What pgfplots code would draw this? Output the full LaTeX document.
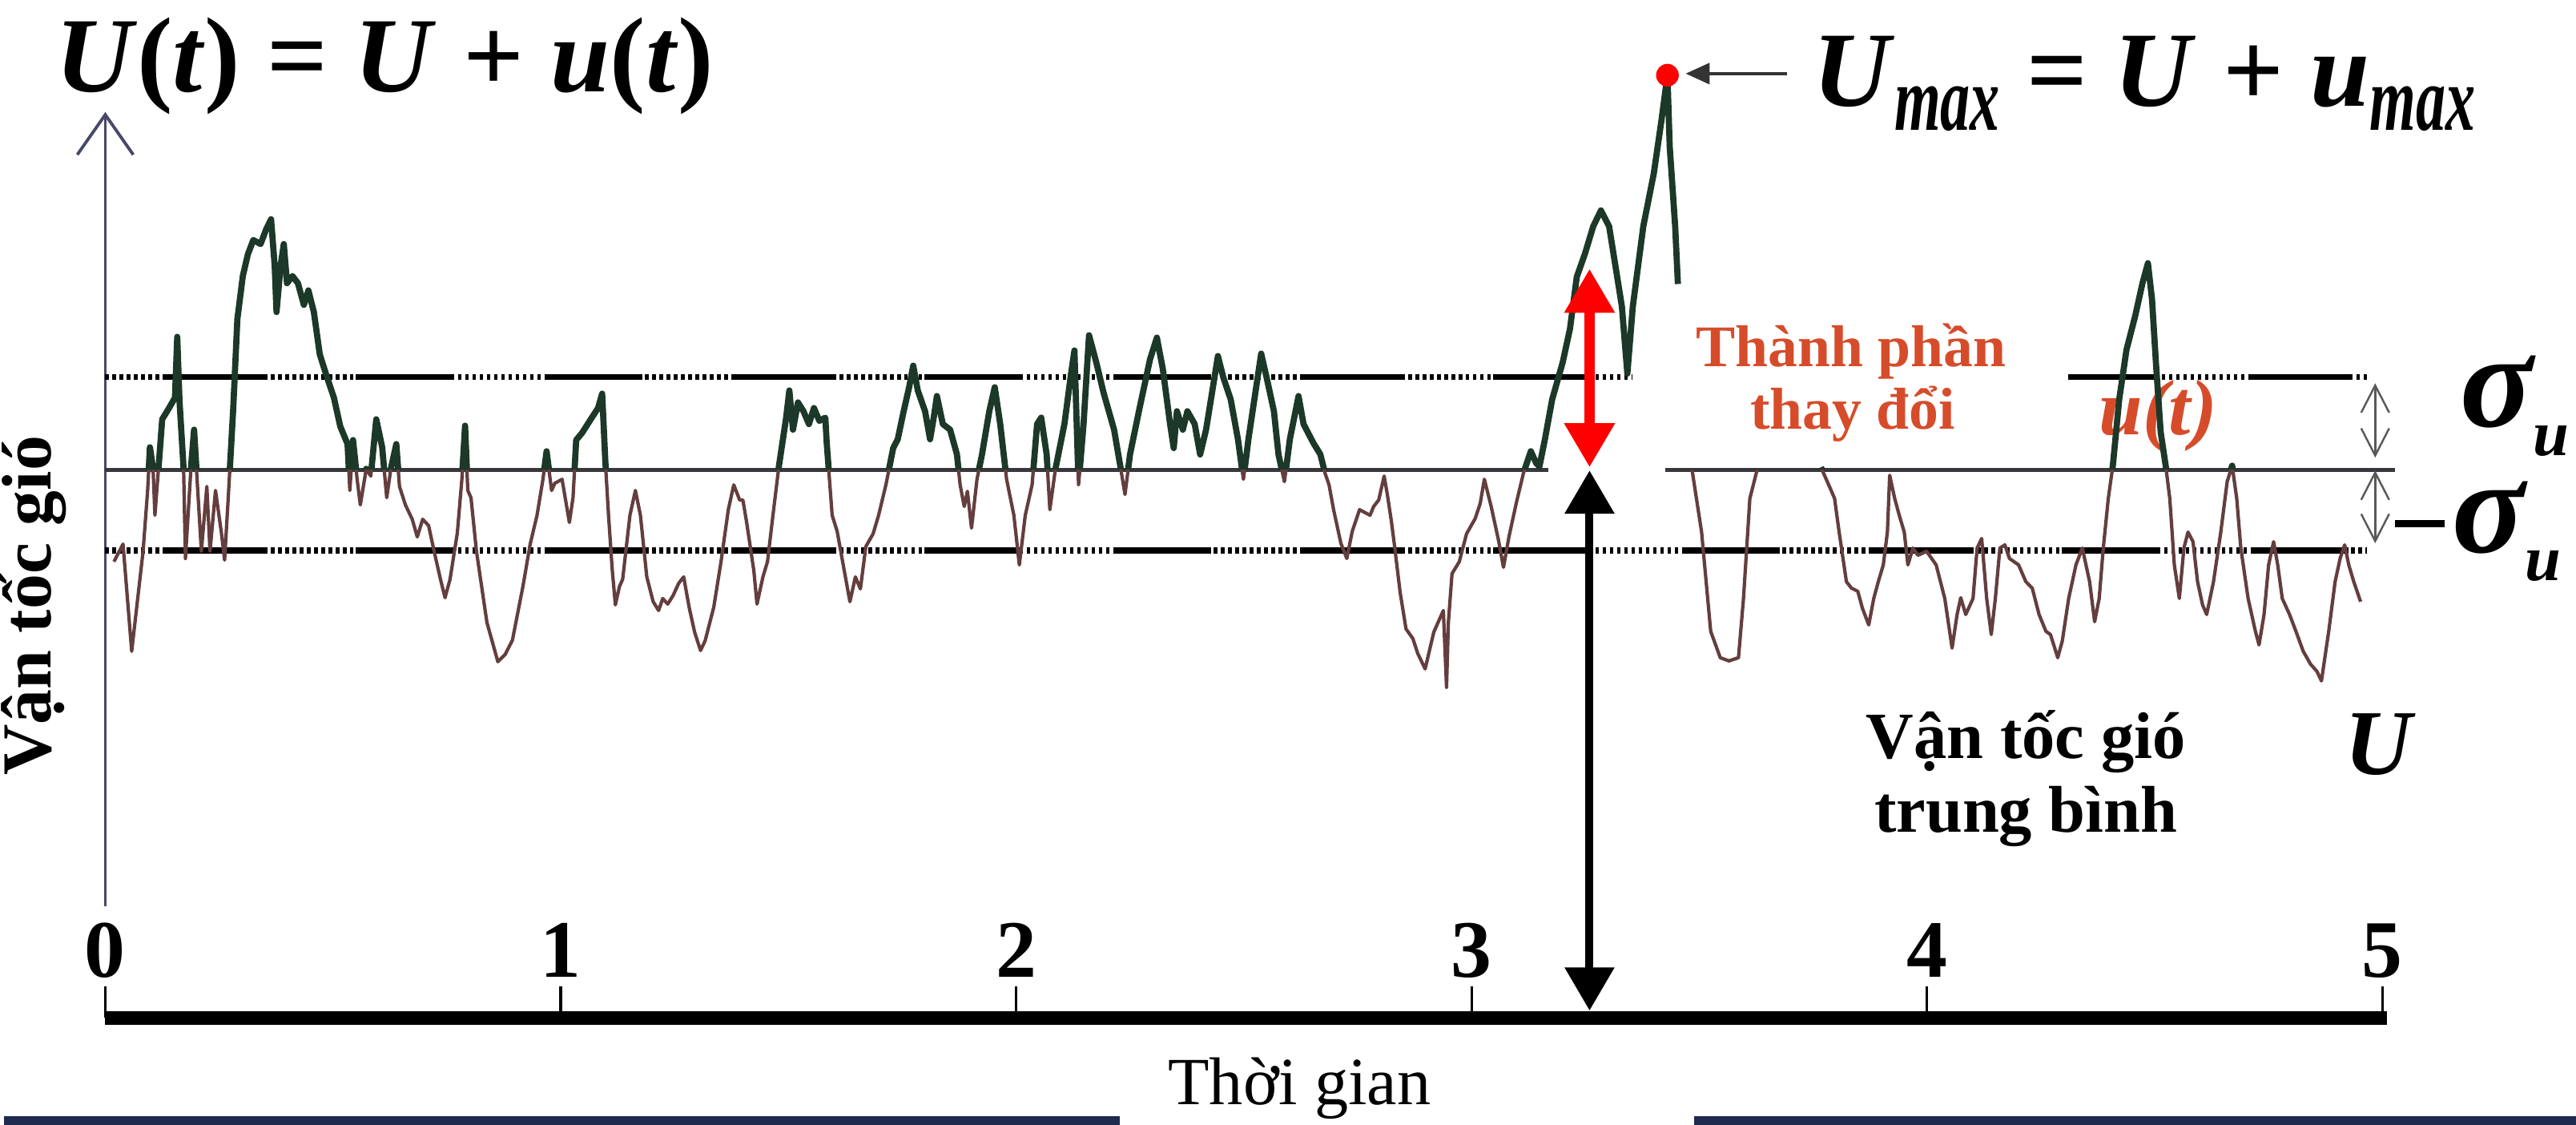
\documentclass[border=0pt]{standalone}
\usepackage{fontspec}
\setmainfont{Liberation Serif}
\usepackage{graphicx}
\usepackage{pgfplots}
\pgfplotsset{compat=1.18}
\usepackage{pgfplotstable}
\usetikzlibrary{arrows.meta}

\definecolor{sigup}{RGB}{28,56,40}
\definecolor{sigdn}{RGB}{100,62,62}
\definecolor{redlab}{RGB}{214,76,42}
\definecolor{axisblue}{RGB}{72,72,105}
\definecolor{meangray}{RGB}{55,55,60}
\definecolor{navy}{RGB}{30,42,78}
\newcommand{\fs}[1]{\fontsize{#1}{#1}\selectfont}
\newcommand{\sub}[1]{\raisebox{-3mm}{\scalebox{0.64}[1]{\fs{33}\bfseries\itshape #1}}}

\pgfplotstableread{
t u
0.019 5.70
0.039 5.92
0.058 4.58
0.083 5.83
0.093 6.59
0.098 7.13
0.105 6.86
0.109 6.28
0.118 6.95
0.125 7.48
0.140 7.62
0.153 7.75
0.158 8.51
0.163 7.71
0.172 6.86
0.176 5.74
0.188 6.86
0.195 7.35
0.204 6.50
0.211 5.83
0.223 6.64
0.230 5.83
0.242 6.59
0.255 6.06
0.262 5.72
0.270 6.50
0.281 7.62
0.290 8.73
0.302 9.27
0.313 9.54
0.325 9.72
0.341 9.67
0.353 9.85
0.364 9.98
0.372 9.40
0.376 8.82
0.385 9.40
0.392 9.67
0.399 9.18
0.411 9.27
0.423 9.18
0.436 8.91
0.446 9.09
0.458 8.82
0.471 8.29
0.486 8.02
0.502 7.75
0.516 7.39
0.532 7.17
0.537 6.59
0.544 7.22
0.553 6.73
0.560 6.41
0.573 6.86
0.583 6.77
0.595 7.48
0.608 7.13
0.618 6.50
0.627 6.86
0.639 7.17
0.646 6.64
0.659 6.41
0.674 6.23
0.685 6.01
0.697 6.23
0.710 6.15
0.722 5.83
0.736 5.48
0.746 5.25
0.757 5.48
0.773 6.06
0.783 6.73
0.790 7.40
0.796 6.59
0.803 6.50
0.815 5.83
0.838 4.94
0.862 4.45
0.878 4.54
0.894 4.72
0.917 5.39
0.933 5.92
0.948 6.28
0.961 6.73
0.969 7.08
0.980 6.59
0.987 6.68
1.003 6.73
1.019 6.19
1.027 6.50
1.034 7.22
1.047 7.31
1.066 7.48
1.082 7.62
1.091 7.80
1.098 6.95
1.105 6.28
1.113 5.61
1.120 5.16
1.129 5.39
1.136 5.48
1.152 6.28
1.164 6.59
1.175 6.28
1.189 5.51
1.203 5.20
1.215 5.09
1.224 5.24
1.235 5.17
1.247 5.28
1.259 5.43
1.270 5.51
1.282 5.13
1.294 4.82
1.307 4.59
1.317 4.71
1.336 5.13
1.352 5.70
1.368 6.35
1.380 6.66
1.393 6.47
1.400 6.47
1.408 6.20
1.424 5.59
1.431 5.17
1.444 5.51
1.454 5.70
1.466 6.28
1.479 6.89
1.495 7.50
1.502 7.84
1.510 7.35
1.521 7.69
1.533 7.58
1.545 7.42
1.556 7.62
1.568 7.46
1.581 7.50
1.584 7.19
1.596 6.28
1.607 6.08
1.619 5.70
1.635 5.20
1.647 5.51
1.658 5.36
1.670 5.89
1.686 6.05
1.698 6.28
1.714 6.66
1.730 7.12
1.740 7.23
1.753 7.58
1.765 7.88
1.774 8.15
1.784 7.84
1.800 7.58
1.811 7.23
1.819 7.50
1.826 7.77
1.839 7.42
1.855 7.35
1.870 7.04
1.877 6.66
1.886 6.39
1.893 6.58
1.902 6.12
1.914 6.73
1.925 7.04
1.941 7.58
1.953 7.88
1.965 7.42
1.979 6.73
1.995 6.28
2.007 5.66
2.020 6.28
2.035 6.66
2.046 7.42
2.055 7.50
2.067 7.04
2.074 6.35
2.086 6.85
2.106 7.42
2.121 8.07
2.128 8.34
2.137 6.66
2.148 7.42
2.160 8.53
2.176 8.19
2.192 7.81
2.215 7.35
2.230 6.85
2.239 6.54
2.250 7.04
2.271 7.62
2.294 8.23
2.309 8.50
2.322 8.11
2.338 7.42
2.346 7.12
2.353 7.58
2.366 7.35
2.376 7.58
2.392 7.42
2.404 7.04
2.417 7.35
2.432 7.88
2.443 8.27
2.455 8.00
2.471 7.73
2.487 7.23
2.499 6.73
2.510 7.23
2.538 8.30
2.550 8.00
2.566 7.58
2.576 7.04
2.589 6.70
2.601 7.23
2.620 7.77
2.631 7.42
2.652 7.19
2.668 7.04
2.678 6.81
2.687 6.66
2.697 6.35
2.713 5.93
2.726 5.74
2.738 6.08
2.754 6.35
2.777 6.28
2.785 6.39
2.796 6.47
2.808 6.77
2.815 6.54
2.824 6.20
2.831 5.89
2.843 5.32
2.856 4.86
2.871 4.74
2.882 4.55
2.898 4.36
2.917 4.82
2.938 5.09
2.945 4.13
2.949 4.94
2.957 5.55
2.973 5.70
2.989 6.05
3.008 6.24
3.019 6.43
3.028 6.73
3.043 6.39
3.059 5.97
3.070 5.63
3.082 6.01
3.098 6.43
3.114 6.81
3.130 7.08
3.142 6.93
3.149 6.89
3.161 7.23
3.177 7.73
3.200 8.19
3.216 8.61
3.231 9.26
3.249 9.55
3.267 9.89
3.284 10.09
3.302 9.89
3.330 8.89
3.342 8.05
3.354 8.89
3.377 9.89
3.400 10.55
3.417 11.22
3.430 11.78
3.435 10.89
3.447 9.89
3.453 9.17
}\sigA

\pgfplotstableread{
t u
3.484 6.85
3.505 6.07
3.525 4.83
3.546 4.50
3.565 4.46
3.586 4.50
3.597 5.24
3.611 6.49
3.627 6.85
}\sigB

\pgfplotstableread{
t u
3.767 6.88
3.788 6.61
3.797 6.49
3.807 6.07
3.823 5.45
3.834 5.37
3.848 5.33
3.858 5.12
3.872 4.91
3.883 5.24
3.893 5.45
3.904 5.66
3.913 6.07
3.918 6.78
3.929 6.49
3.939 6.28
3.950 6.07
3.958 5.66
3.969 5.87
3.980 5.78
3.999 5.83
4.020 5.66
4.039 5.24
4.055 4.62
4.066 5.04
4.074 5.25
4.085 5.04
4.101 5.24
4.110 5.87
4.120 5.99
4.131 5.24
4.141 4.79
4.150 5.24
4.160 5.87
4.171 5.91
4.181 5.74
4.201 5.66
4.217 5.45
4.231 5.37
4.246 5.04
4.261 4.83
4.271 4.79
4.287 4.50
4.297 4.71
4.311 5.24
4.327 5.66
4.341 5.87
4.357 5.45
4.368 4.95
4.378 5.24
4.387 5.87
4.398 6.49
4.408 6.90
4.422 7.73
4.438 8.35
4.457 8.77
4.473 9.18
4.485 9.43
4.494 8.98
4.503 8.15
4.513 7.32
4.524 6.90
4.533 6.49
4.543 5.66
4.554 5.24
4.564 5.87
4.573 6.07
4.584 5.95
4.594 5.45
4.605 5.16
4.614 5.04
4.629 5.45
4.645 6.07
4.659 6.70
4.670 6.90
4.680 6.49
4.689 5.87
4.705 5.24
4.721 4.83
4.729 4.66
4.740 5.04
4.750 5.66
4.761 5.95
4.770 5.66
4.780 5.24
4.796 5.04
4.810 4.83
4.826 4.58
4.842 4.42
4.856 4.33
4.866 4.21
4.882 4.83
4.896 5.45
4.907 5.74
4.917 5.91
4.926 5.66
4.937 5.45
4.952 5.20
}\sigC

\begin{document}
\begin{tikzpicture}
\begin{axis}[
  x=56.94mm, y=10mm,
  xmin=0, xmax=5.01, ymin=0, ymax=11.32,
  axis x line=bottom, axis y line=none,
  x axis line style={-, line width=4.8pt},
  xtick={0,1,2,3,4,5}, ytick=\empty,
  tick align=inside, major tick length=3.9mm,
  xtick style={black, line width=0.9pt},
  xticklabel style={font=\fs{29}\bfseries, anchor=center, yshift=8.4mm, inner sep=0pt},
  /pgf/number format/assume math mode=true,
  clip=false,
]
% picture frame
\path (axis cs:-0.223,-1.34) rectangle (axis cs:5.425,12.72);
\fill[navy] (axis cs:-0.223,-1.34) rectangle (axis cs:2.227,-1.23);
\fill[navy] (axis cs:3.489,-1.34) rectangle (axis cs:5.425,-1.23);

% y axis
\draw[axisblue, line width=1.1pt, -{Straight Barb[length=5mm,width=7mm]}] (axis cs:0,1.39) -- (axis cs:0,11.32);

% text behind signal
\node[anchor=base, font=\fs{28}\bfseries\itshape, text=redlab, inner sep=0] at (axis cs:4.507,7.29) {u(t)};

% sigma lines (dotted + solid dashes) and mean line
\addplot[black, line width=2pt, dash pattern=on 0.45mm off 0.45mm] coordinates {(0,8.01) (3.351,8.01)};
\addplot[black, line width=2pt, dash pattern=on 12.2mm off 11.5mm, dash phase=16.1mm] coordinates {(0,8.01) (3.351,8.01)};
\addplot[black, line width=2pt, dash pattern=on 0.45mm off 0.45mm] coordinates {(4.310,8.01) (4.966,8.01)};
\addplot[black, line width=2pt, dash pattern=on 12.2mm off 11.5mm, dash phase=0.8mm] coordinates {(4.310,8.01) (4.966,8.01)};
\addplot[black, line width=2pt, dash pattern=on 0.45mm off 0.45mm] coordinates {(0,5.84) (4.966,5.84)};
\addplot[black, line width=2pt, dash pattern=on 12.2mm off 11.5mm, dash phase=16.1mm] coordinates {(0,5.84) (4.966,5.84)};
\addplot[meangray, line width=1.4pt] coordinates {(0,6.85) (3.168,6.85)};
\addplot[meangray, line width=1.4pt] coordinates {(3.426,6.85) (5.028,6.85)};

% signal: above mean (green) and below mean (brown)
\begin{scope}
\clip (axis cs:-0.2,6.85) rectangle (axis cs:5.4,12.7);
\addplot[sigup, line width=2.2pt, line join=round] table {\sigA};
\addplot[sigup, line width=2.2pt, line join=round] table {\sigB};
\addplot[sigup, line width=2.2pt, line join=round] table {\sigC};
\end{scope}
\begin{scope}
\clip (axis cs:-0.2,-1.3) rectangle (axis cs:5.4,6.85);
\addplot[sigdn, line width=1.2pt, line join=round] table {\sigA};
\addplot[sigdn, line width=1.2pt, line join=round] table {\sigB};
\addplot[sigdn, line width=1.2pt, line join=round] table {\sigC};
\end{scope}

% maximum point
\addplot[only marks, mark=*, mark size=1.35mm, mark options={fill=red, draw=red}] coordinates {(3.430,11.78)};
\draw[black!80, line width=1.2pt, -{Triangle[length=3mm,width=2.6mm]}] (axis cs:3.692,11.80) -- (axis cs:3.470,11.80);

% arrows
\draw[red, line width=1.3mm, {Triangle[length=5.5mm,width=6mm]}-{Triangle[length=5.5mm,width=6mm]}] (axis cs:3.259,6.88) -- (axis cs:3.259,9.36);
\draw[black, line width=1mm, {Triangle[length=5.4mm,width=6mm]}-{Triangle[length=5.4mm,width=6mm]}] (axis cs:3.259,6.84) -- (axis cs:3.259,0.09);
\draw[black!65, line width=0.7pt, {Straight Barb[length=3.4mm,width=3.5mm]}-{Straight Barb[length=3.4mm,width=3.5mm]}] (axis cs:4.984,7.93) -- (axis cs:4.984,7.00);
\draw[black!65, line width=0.7pt, {Straight Barb[length=3.4mm,width=3.5mm]}-{Straight Barb[length=3.4mm,width=3.5mm]}] (axis cs:4.984,6.84) -- (axis cs:4.984,5.93);

% labels
\node[anchor=base west, font=\fs{38}\bfseries, inner sep=0] at (axis cs:-0.111,11.57) {\textit{U}(\textit{t}) = \textit{U} + \textit{u}(\textit{t})};
\node[anchor=base west, font=\fs{38}\bfseries, inner sep=0] at (axis cs:3.748,11.39) {\textit{U}\sub{max} = \textit{U} + \textit{u}\sub{max}};
\node[rotate=90, font=\fs{25}\bfseries, inner sep=0] at (axis cs:-0.158,5.15) {Vận tốc gió};
\node[anchor=base, font=\fs{24}, inner sep=0] at (axis cs:2.622,-1.08) {Thời gian};
\node[anchor=base, font=\fs{21}\bfseries, text=redlab, inner sep=0] at (axis cs:3.833,8.14) {Thành phần};
\node[anchor=base, font=\fs{21}\bfseries, text=redlab, inner sep=0] at (axis cs:3.837,7.36) {thay đổi};
\node[anchor=base, font=\fs{23.5}\bfseries, inner sep=0] at (axis cs:4.217,3.24) {Vận tốc gió};
\node[anchor=base, font=\fs{23.5}\bfseries, inner sep=0] at (axis cs:4.217,2.32) {trung bình};
\node[anchor=base, font=\fs{33}\bfseries\itshape, inner sep=0] at (axis cs:4.991,3.04) {U};
\node[anchor=base west, font=\fs{48}\bfseries\itshape, inner sep=0] at (axis cs:5.169,7.39) {σ\raisebox{-3.6mm}{\fs{23}u}};
\node[anchor=base west, font=\fs{48}\bfseries\itshape, inner sep=0] at (axis cs:5.026,5.82) {\rule[3.1mm]{6.2mm}{0.95mm}\hspace{1mm}σ\raisebox{-3.6mm}{\fs{23}u}};
\end{axis}
\end{tikzpicture}
\end{document}
